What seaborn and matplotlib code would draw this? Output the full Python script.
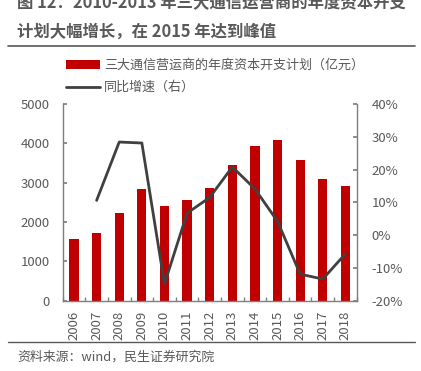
import matplotlib
matplotlib.use("Agg")
import matplotlib.pyplot as plt
from matplotlib.lines import Line2D
from matplotlib.patches import Patch
from matplotlib.ticker import FuncFormatter, MultipleLocator
import numpy as np
import pandas as pd
import seaborn as sns

YEARS = [2006, 2007, 2008, 2009, 2010, 2011, 2012, 2013, 2014, 2015, 2016, 2017, 2018]
CAPEX = [1560, 1730, 2220, 2830, 2405, 2565, 2855, 3450, 3925, 4075, 3575, 3100, 2915]
GROWTH_YEARS = [2007, 2008, 2009, 2010, 2011, 2012, 2013, 2014, 2015, 2016, 2017, 2018]
GROWTH = [10.6, 28.4, 28.1, -14.9, 6.7, 11.5, 20.8, 14.1, 4.2, -11.9, -13.4, -5.7]

BAR_LABEL = "三大通信营运商的年度资本开支计划（亿元）"
LINE_LABEL = "同比增速（右）"
TITLE_1 = "图 12：2010-2013 年三大通信运营商的年度资本开支"
TITLE_2 = "计划大幅增长，在 2015 年达到峰值"
SOURCE = "资料来源：wind，民生证券研究院"

RED = "#C00000"
LINE = "#404040"
GREY = "#595959"
SPINE = "#7f7f7f"

sns.set_theme(style="ticks")
plt.rcParams["font.family"] = ["Noto Sans CJK SC", "DejaVu Sans"]

W, H = 421, 371
fig = plt.figure(figsize=(W / 100, H / 100), dpi=100)
ax = fig.add_axes([62.7 / W, 1 - 300.7 / H, (356.7 - 62.7) / W, (300.7 - 104) / H])

df = pd.DataFrame({"year": [str(y) for y in YEARS], "capex": CAPEX})
sns.barplot(data=df, x="year", y="capex", ax=ax, color=RED, width=0.41,
            saturation=1, linewidth=0)

ax2 = ax.twinx()
pos = [YEARS.index(y) for y in GROWTH_YEARS]
sns.lineplot(x=pos, y=GROWTH, ax=ax2, color=LINE, linewidth=2)

ax.set_xlim(-0.5, len(YEARS) - 0.5)
ax.set_ylim(0, 5000)
ax.yaxis.set_major_locator(MultipleLocator(1000))
ax2.set_ylim(-20, 40)
ax2.yaxis.set_major_locator(MultipleLocator(10))
ax2.yaxis.set_major_formatter(FuncFormatter(lambda v, _: f"{v:.0f}%"))

ax.set_xlabel("")
ax.set_ylabel("")
ax2.set_xlabel("")
ax2.set_ylabel("")

ax.set_xticks(range(len(YEARS)))
ax.set_xticklabels([str(y) for y in YEARS], rotation=90)
ax.set_xticks(np.arange(len(YEARS) + 1) - 0.5, minor=True)
ax.tick_params(axis="x", which="major", length=0, pad=7, labelsize=9.5, labelcolor=GREY)
ax.tick_params(axis="x", which="minor", direction="in", length=3, color=SPINE)
ax.tick_params(axis="y", direction="in", length=3, pad=9.5, labelsize=9.5,
               labelcolor=GREY, color=SPINE)
ax2.tick_params(axis="y", direction="in", length=3, pad=10.5, labelsize=9.5,
                labelcolor=GREY, color=SPINE)

for a in (ax, ax2):
    a.spines["top"].set_visible(False)
    for s in ("left", "right", "bottom"):
        a.spines[s].set_color(SPINE)
        a.spines[s].set_linewidth(1)
ax.spines["right"].set_visible(False)
ax2.spines["left"].set_visible(False)
ax2.spines["bottom"].set_visible(False)

handles = [Patch(facecolor=RED, edgecolor="none", label=BAR_LABEL),
           Line2D([0], [0], color=LINE, linewidth=2, label=LINE_LABEL)]
fig.legend(handles=handles, loc="upper left", bbox_to_anchor=(66 / W, 1 - 59 / H),
           frameon=False, fontsize=9.4, handlelength=2.6, handletextpad=0.3,
           labelspacing=0.7, borderpad=0, borderaxespad=0, labelcolor=GREY)

fig.text(17 / W, 1 - 3.5 / H, TITLE_1, fontsize=11.8, fontweight="bold",
         color=GREY, va="center", ha="left")
fig.text(17 / W, 1 - 31.5 / H, TITLE_2, fontsize=11.8, fontweight="bold",
         color=GREY, va="center", ha="left")
fig.add_artist(Line2D([8 / W, 415 / W], [1 - 45.5 / H] * 2, color=GREY, linewidth=1.2))
fig.add_artist(Line2D([8 / W, 415 / W], [1 - 342 / H] * 2, color=GREY, linewidth=1))
fig.text(17 / W, 1 - 357 / H, SOURCE, fontsize=9.3, color=GREY, va="center", ha="left")

fig.savefig("out.png", dpi=100)
